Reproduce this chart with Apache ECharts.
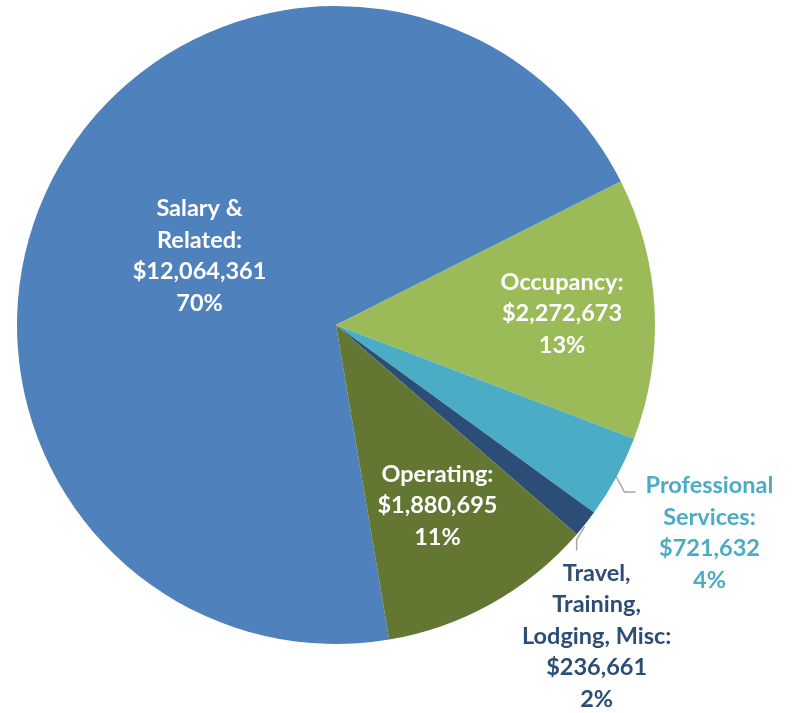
<!DOCTYPE html>
<html>
<head>
<meta charset="utf-8">
<script src="https://cdn.jsdelivr.net/npm/echarts@6/dist/echarts.min.js"></script>
<style>
  html, body { margin: 0; padding: 0; background: #fff; }
  #chart { width: 798px; height: 713px; }
</style>
</head>
<body>
<div id="chart"></div>
<script>
  // data
  var categories = ['Salary &\nRelated', 'Occupancy', 'Professional\nServices', 'Travel,\nTraining,\nLodging, Misc', 'Operating']
  var amounts = [12064361, 2272673, 721632, 236661, 1880695]
  var colors = ['#4f81bd', '#9bbb59', '#4bacc6', '#2c4d75', '#637733']
  var labelColors = ['#fff', '#fff', '#4bacc6', '#2c4d75', '#fff']
  var outsideLabel = [false, false, true, true, false]

  // layout
  var cx = 336, cy = 325, R = 319
  var startAngle = 279.6
  var insideRadius = [0.47, 0.70, 0, 0, 0.64] // where inside labels sit (fraction of R)

  var total = amounts.reduce(function (a, b) { return a + b }, 0)
  var midAngles = []
  var cum = 0
  amounts.forEach(function (v) {
    midAngles.push((startAngle - (cum + v / 2) / total * 360) * Math.PI / 180)
    cum += v
  })

  var myChart = echarts.init(document.getElementById('chart'))
  myChart.setOption({
    animation: false,
    series: [{
      type: 'pie',
      center: [cx, cy],
      radius: [0, R],
      startAngle: startAngle,
      clockwise: true,
      percentPrecision: 0,
      avoidLabelOverlap: false,
      label: {
        fontFamily: 'Lato',
        fontWeight: 'bold',
        fontSize: 23.5,
        lineHeight: 31.5,
        formatter: function (p) {
          return p.name + ':\n$' + p.value.toLocaleString('en-US') + '\n' + p.percent + '%'
        }
      },
      labelLine: {
        lineStyle: { color: '#a6a6a6', width: 1.5 }
      },
      labelLayout: function (p) {
        var i = p.dataIndex
        var a = midAngles[i]
        var ex = cx + R * Math.cos(a), ey = cy - R * Math.sin(a)
        if (!outsideLabel[i]) {
          var shift = (insideRadius[i] - 0.5) * R
          return { dx: shift * Math.cos(a), dy: -shift * Math.sin(a) }
        }
        if (i === 2) {
          return {
            x: ex + 93, y: ey - 7, align: 'center', verticalAlign: 'top',
            labelLinePoints: [[ex, ey], [ex + 8, ey + 15], [ex + 19, ey + 15]]
          }
        }
        return {
          x: ex + 11, y: ey + 34, align: 'center', verticalAlign: 'top',
          labelLinePoints: [[ex - 1, ey + 3], [ex - 9, ey + 16], [ex - 9, ey + 27]]
        }
      },
      data: categories.map(function (name, i) {
        return {
          name: name,
          value: amounts[i],
          itemStyle: { color: colors[i] },
          label: { position: outsideLabel[i] ? 'outside' : 'inside', color: labelColors[i] },
          labelLine: { show: outsideLabel[i] }
        }
      })
    }]
  })
</script>
</body>
</html>
